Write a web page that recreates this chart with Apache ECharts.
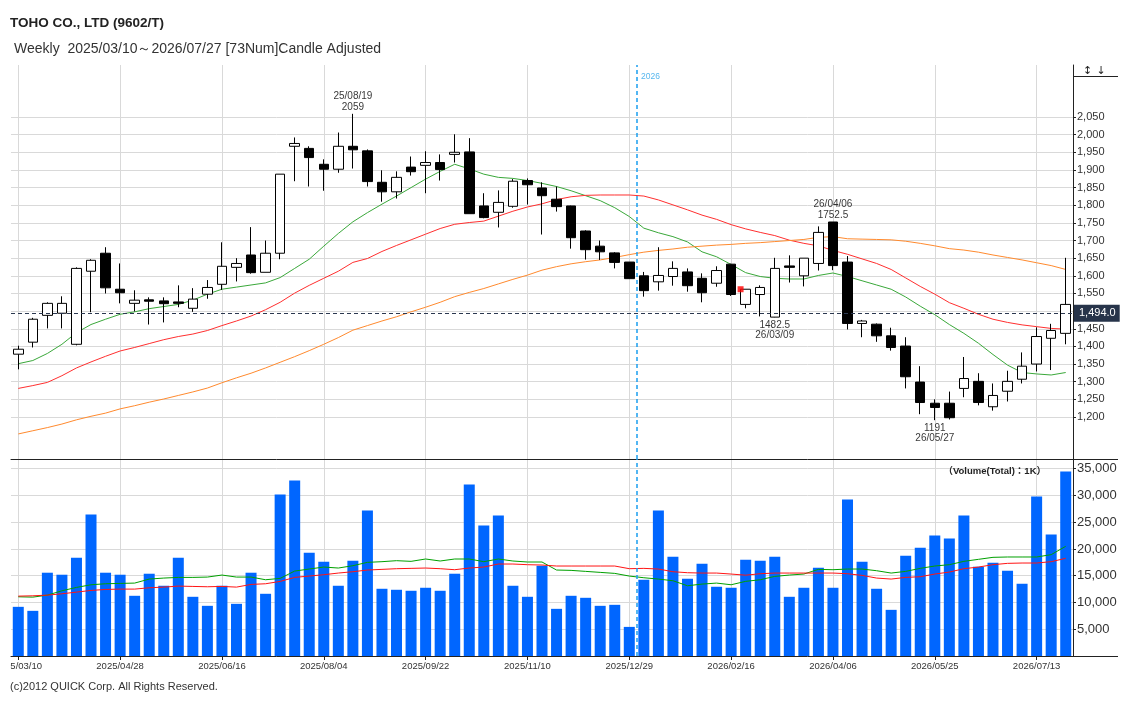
<!DOCTYPE html>
<html>
<head>
<meta charset="utf-8">
<script src="https://cdn.jsdelivr.net/npm/echarts@6/dist/echarts.min.js"></script>
<style>html,body{margin:0;padding:0;background:#fff}#c{width:1129px;height:701px}</style>
</head>
<body>
<div id="c"></div>
<script>
// ---- axis ticks / labels ----
const tickIndex = [0, 7, 14, 21, 28, 35, 42, 49, 56, 63, 70];
const tickLabels = ['2025/03/10', '2025/04/28', '2025/06/16', '2025/08/04', '2025/09/22', '2025/11/10', '2025/12/29', '2026/02/16', '2026/04/06', '2026/05/25', '2026/07/13'];
const priceTicks = [1200, 1250, 1300, 1350, 1400, 1450, 1500, 1550, 1600, 1650, 1700, 1750, 1800, 1850, 1900, 1950, 2000, 2050];
const volumeTicks = [5000, 10000, 15000, 20000, 25000, 30000, 35000];

// ---- weekly candles (73 weeks, 2025/03/10 .. 2026/07/27) ----
const open = [1378, 1412, 1488, 1494, 1406, 1613, 1664, 1562, 1522, 1532, 1529, 1526, 1508, 1548, 1576, 1624, 1659, 1610, 1664, 1967, 1961, 1916, 1902, 1967,
  1954, 1865, 1838, 1908, 1913, 1921, 1944, 1951, 1798, 1780, 1797, 1870, 1849, 1817, 1798, 1727, 1684, 1665, 1639, 1600, 1583, 1598, 1611,
  1593, 1579, 1633, 1519, 1547, 1483, 1628, 1600, 1635, 1752.5, 1639, 1465, 1463, 1430, 1401, 1299, 1239, 1239, 1281, 1301, 1229, 1273, 1307, 1350, 1423, 1437];
const close = [1392, 1477, 1522, 1522, 1621, 1644, 1566, 1552, 1531, 1528, 1521, 1522, 1534, 1567, 1627, 1635, 1609, 1664, 1888, 1975, 1935, 1902, 1967, 1957,
  1867, 1838, 1879, 1895, 1921, 1901, 1950, 1776, 1765, 1808, 1868, 1858, 1827, 1796, 1708, 1674, 1668, 1638, 1592, 1558, 1601, 1621, 1572,
  1552, 1615, 1547, 1562, 1567, 1621, 1624, 1650, 1723, 1629, 1465, 1472, 1430, 1397, 1314, 1241, 1227, 1198, 1309, 1241, 1261, 1301, 1344, 1428, 1445, 1519];
const high = [1402, 1481, 1525, 1542, 1624, 1647, 1681, 1635, 1559, 1539, 1539, 1573, 1565, 1588, 1695, 1650, 1738, 1700, 1888, 1992, 1967, 1930, 2006, 2059,
  1958, 1899, 1896, 1938, 1953, 1944, 2001, 1990, 1834, 1842, 1874, 1876, 1865, 1853, 1799, 1729, 1700, 1667, 1639, 1611, 1681, 1641, 1621,
  1607, 1627, 1634, 1562, 1573, 1651, 1658, 1650, 1740, 1752.5, 1656, 1475, 1465, 1453, 1426, 1344, 1250, 1272, 1370, 1324, 1295, 1331, 1383, 1454, 1464, 1651];
const low = [1335, 1397, 1451, 1451, 1403, 1497, 1550, 1522, 1499, 1462, 1468, 1511, 1498, 1535, 1560, 1584, 1606, 1610, 1647, 1868, 1853, 1841, 1892, 1904,
  1853, 1810, 1819, 1884, 1834, 1870, 1921, 1776, 1763, 1737, 1793, 1802, 1717, 1782, 1677, 1646, 1645, 1621, 1592, 1541, 1558, 1572, 1555,
  1525, 1569, 1543, 1508, 1485, 1482.5, 1581, 1570, 1615, 1616, 1448, 1426, 1413, 1388, 1281, 1208, 1191, 1193, 1256, 1233, 1218, 1244, 1295, 1329, 1333, 1406];

// ---- price moving averages ----
const ma13 = [1351, 1360, 1380, 1406, 1439, 1462, 1477, 1491, 1498, 1507, 1513, 1519, 1531, 1548, 1562, 1568, 1574, 1580, 1595, 1621, 1647, 1684, 1720, 1753,
  1779, 1803, 1826, 1850, 1874, 1896, 1916, 1903, 1888, 1879, 1876, 1870, 1862, 1853, 1841, 1827, 1813, 1793, 1768, 1735, 1722, 1711, 1696,
  1668, 1654, 1632, 1609, 1598, 1593, 1591, 1591, 1601, 1608, 1598, 1586, 1574, 1562, 1540, 1514, 1490, 1462, 1437, 1409, 1377, 1347, 1326, 1322, 1319, 1326];
const ma26 = [1281, 1289, 1298, 1317, 1339, 1356, 1372, 1387, 1397, 1408, 1419, 1428, 1435, 1445, 1459, 1472, 1486, 1504, 1525, 1551, 1573, 1593, 1613, 1638,
  1649, 1669, 1686, 1702, 1718, 1734, 1746, 1751, 1755, 1769, 1783, 1795, 1804, 1816, 1824, 1828, 1829, 1829, 1829, 1826, 1815, 1801, 1787,
  1772, 1760, 1745, 1733, 1723, 1714, 1701, 1692, 1685, 1672, 1661, 1648, 1635, 1618, 1594, 1570, 1548, 1524, 1508, 1491, 1477, 1468, 1461, 1456, 1451, 1449];
const ma52 = [1152, 1161, 1170, 1180, 1192, 1202, 1211, 1223, 1232, 1242, 1251, 1261, 1271, 1282, 1297, 1311, 1324, 1339, 1355, 1371, 1388, 1406, 1425, 1446,
  1459, 1472, 1484, 1498, 1511, 1525, 1541, 1553, 1564, 1577, 1590, 1602, 1616, 1626, 1634, 1640, 1645, 1652, 1660, 1667, 1672, 1676, 1681,
  1684, 1687, 1689, 1692, 1694, 1697, 1700, 1703, 1709, 1711, 1705, 1704, 1703, 1702, 1698, 1692, 1685, 1677, 1673, 1667, 1659, 1652, 1645, 1637, 1629, 1618];

// ---- volume (thousand shares) and its averages ----
const volume = [9188, 8438, 15563, 15188, 18375, 26438, 15563, 15188, 11250, 15375, 13125, 18375, 11063, 9375, 13125, 9750, 15563, 11625, 30188, 32813, 19313, 17625, 13125, 17813, 27188,
  12563, 12375, 12188, 12750, 12188, 15375, 32063, 24375, 26250, 13125, 11063, 16875, 8813, 11250, 10875, 9375, 9563, 5438, 14250, 27188, 18563, 14438, 17250, 12938, 12750, 18000,
  17813, 18563, 11063, 12750, 16500, 12750, 29250, 17625, 12563, 8625, 18750, 20250, 22500, 21938, 26250, 16688, 17438, 15938, 13500, 29813, 22688, 34500];
const volMa13 = [11063, 11000, 11375, 12188, 12813, 13313, 13500, 13563, 13625, 14375, 14563, 14688, 14688, 14750, 15125, 14750, 14750, 14250, 14500, 15875, 16250, 16625, 16438, 16875, 17500,
  17625, 17813, 17688, 18125, 17750, 18125, 18125, 17625, 18125, 17750, 17563, 17563, 16063, 16000, 15813, 15625, 15438, 14938, 14625, 14375, 14063, 13125, 13438, 13625, 13313, 13950,
  14250, 14875, 15125, 15313, 16188, 16125, 16250, 16250, 15938, 15500, 15813, 16375, 16813, 17063, 17688, 18063, 18438, 18500, 18500, 18500, 18938, 20500];
const volMa26 = [11188, 11250, 11375, 11625, 11938, 12250, 12438, 12500, 12500, 12750, 12875, 13063, 13000, 12938, 13000, 12875, 13375, 13500, 13938, 14688, 14938, 15188, 15500, 15750, 16063,
  16188, 16313, 16375, 16438, 16313, 16125, 16438, 16625, 17188, 17188, 17063, 17000, 16813, 16813, 16813, 16813, 16813, 16313, 16375, 16250, 15750, 15563, 15500, 15500, 15313, 15100,
  15375, 15500, 15500, 15500, 15500, 15500, 15375, 15063, 14563, 14375, 14688, 14813, 15313, 15688, 16313, 16625, 17063, 17313, 17375, 17375, 17625, 18250];

// ---- annotations ----
const lastPrice = 1494.0;
const yearBoundary = 42.5;           // between 2025/12/29 and 2026/01/05
const yearLabel = '2026';
const yearLabelPrice = 2164;
const annotations = [
  { i: 23, price: 2059, text: '25/08/19\n2059', pos: 'top' },
  { i: 56, price: 1752.5, text: '26/04/06\n1752.5', pos: 'top' },
  { i: 52, price: 1482.5, text: '1482.5\n26/03/09', pos: 'bottom' },
  { i: 63, price: 1191, text: '1191\n26/05/27', pos: 'bottom' }
];
const eventMarkers = [[49.65, 1562]];

const fmt = v => Number(v).toLocaleString('en-US');
const series2 = arr => arr.map((v, i) => [i, v]);
const ohlc = open.map((o, i) => [i, o, close[i], low[i], high[i]]);
const weekIndex = open.map((o, i) => i);

const FONT = '"Liberation Sans", Arial, sans-serif';
const grid = '#d9d9d9';
const axisCol = '#222';

const chart = echarts.init(document.getElementById('c'), null, { renderer: 'canvas', width: 1129, height: 701 });

const lineS = (name, data, color, xi, yi, z, extra) => Object.assign({
  name, type: 'line', xAxisIndex: xi, yAxisIndex: yi, data: series2(data),
  symbol: 'none', showSymbol: false, clip: false, z: z,
  lineStyle: { color, width: 1 }, silent: true
}, extra || {});

const yearLine = () => ({
  silent: true, symbol: ['none', 'none'], animation: false,
  label: { show: false },
  lineStyle: { color: '#1a9ff0', type: [4, 3], width: 1.5 },
  data: [{ xAxis: yearBoundary }]
});

const option = {
  animation: false,
  backgroundColor: '#fff',
  textStyle: { fontFamily: FONT },
  grid: [
    { left: 11, right: 56, top: 65, height: 394, containLabel: false, outerBoundsMode: 'none' },
    { left: 11, right: 56, top: 459, height: 197, containLabel: false, outerBoundsMode: 'none' }
  ],
  xAxis: [
    {
      type: 'value', gridIndex: 0, min: -0.5, max: 72.5,
      axisLine: { show: true, onZero: false, lineStyle: { color: axisCol, width: 1 } },
      axisTick: { show: false, customValues: tickIndex },
      axisLabel: { show: false, customValues: tickIndex },
      splitLine: { show: true, lineStyle: { color: grid, width: 1 } }
    },
    {
      type: 'value', gridIndex: 1, min: -0.5, max: 72.5,
      axisLine: { show: true, onZero: false, lineStyle: { color: axisCol, width: 1 } },
      axisTick: { show: true, length: 4, customValues: tickIndex, lineStyle: { color: axisCol } },
      axisLabel: {
        customValues: tickIndex, fontSize: 9.5, color: '#333', margin: 5, fontFamily: FONT,
        formatter: v => tickLabels[tickIndex.indexOf(Math.round(v))] || ''
      },
      splitLine: { show: true, lineStyle: { color: grid, width: 1 } }
    },
    {
      type: 'category', gridIndex: 1, data: weekIndex, boundaryGap: true, show: false
    }
  ],
  yAxis: [
    {
      type: 'value', gridIndex: 0, position: 'right', min: 1081, max: 2197.3,
      axisLine: { show: true, onZero: false, lineStyle: { color: axisCol, width: 1 } },
      axisTick: { show: true, length: 3, customValues: priceTicks, lineStyle: { color: axisCol } },
      axisLabel: { customValues: priceTicks, formatter: fmt, fontSize: 11, color: '#333', margin: 4, fontFamily: FONT },
      splitLine: { show: true, lineStyle: { color: grid, width: 1 } }
    },
    {
      type: 'value', gridIndex: 1, position: 'right', min: 0, max: 36813,
      axisLine: { show: true, onZero: false, lineStyle: { color: axisCol, width: 1 } },
      axisTick: { show: true, length: 3, customValues: volumeTicks, lineStyle: { color: axisCol } },
      axisLabel: { customValues: volumeTicks, formatter: fmt, fontSize: 13, color: '#333', margin: 4, fontFamily: FONT },
      splitLine: { show: true, lineStyle: { color: grid, width: 1 } }
    }
  ],
  series: [
    lineS('MA13', ma13, '#3aa83a', 0, 0, 2, { markLine: yearLine() }),
    lineS('MA26', ma26, '#ff2f2f', 0, 0, 2),
    lineS('MA52', ma52, '#ff8a2e', 0, 0, 2),
    {
      name: 'price', type: 'candlestick', xAxisIndex: 0, yAxisIndex: 0, data: ohlc,
      barWidth: 10, clip: false, z: 4, silent: true,
      itemStyle: { color: '#ffffff', color0: '#000000', borderColor: '#000000', borderColor0: '#000000', borderColorDoji: '#000000', borderWidth: 1 },
      markLine: {
        silent: true, symbol: ['none', 'none'], animation: false, z: 6,
        lineStyle: { color: '#2b3850', type: [4, 3], width: 1 },
        label: {
          show: true, position: 'end', distance: 1,
          formatter: () => lastPrice.toLocaleString('en-US', { minimumFractionDigits: 1 }),
          color: '#fff', backgroundColor: '#27344a', padding: [3, 4, 3, 5], fontSize: 11, fontFamily: FONT
        },
        data: [{ yAxis: lastPrice }]
      }
    },
    {
      type: 'scatter', xAxisIndex: 0, yAxisIndex: 0, silent: true, z: 7,
      symbolSize: 1, itemStyle: { color: 'rgba(0,0,0,0)' },
      data: annotations.map(a => ({
        value: [a.i, a.price],
        label: {
          show: true, position: a.pos, distance: a.pos === 'top' ? 1 : 2,
          formatter: a.text, fontSize: 10, lineHeight: 10.5, color: '#000', align: 'center', fontFamily: FONT
        }
      }))
    },
    {
      type: 'scatter', xAxisIndex: 0, yAxisIndex: 0, silent: true, z: 7,
      symbol: 'rect', symbolSize: 6, itemStyle: { color: '#ff0000' },
      data: eventMarkers
    },
    {
      type: 'scatter', xAxisIndex: 0, yAxisIndex: 0, silent: true, z: 7,
      symbolSize: 1, itemStyle: { color: 'rgba(0,0,0,0)' },
      data: [{
        value: [yearBoundary, yearLabelPrice],
        label: { show: true, position: 'right', distance: 4, formatter: yearLabel, fontSize: 8.5, color: '#2aa4ea', fontFamily: FONT }
      }]
    },
    {
      name: 'volume', type: 'bar', xAxisIndex: 2, yAxisIndex: 1, data: volume,
      barWidth: 11, silent: true, z: 2,
      itemStyle: { color: '#0066ff' }
    },
    lineS('VMA13', volMa13, '#00a000', 1, 1, 4, { markLine: yearLine() }),
    lineS('VMA26', volMa26, '#ff1414', 1, 1, 4)
  ],
  graphic: [
    { type: 'text', left: 10, top: 16, z: 100, style: { text: 'TOHO CO., LTD (9602/T)', font: 'bold 13.5px ' + FONT, fill: '#222' } },
    { type: 'text', left: 14, top: 42, z: 100, style: { text: 'Weekly  2025/03/10～2026/07/27 [73Num]Candle Adjusted', font: '14px ' + FONT, fill: '#333' } },
    { type: 'text', left: 10, top: 681, z: 100, style: { text: '(c)2012 QUICK Corp. All Rights Reserved.', font: '11px ' + FONT, fill: '#333' } },
    { type: 'text', z: 100, x: 1046, y: 471, style: { text: '（Volume(Total)：1K）', font: 'bold 9.5px ' + FONT + ', "Noto Sans CJK JP"', fill: '#222', align: 'right', verticalAlign: 'middle' } },
    { type: 'rect', z: 100, shape: { x: 0, y: 657, width: 10.5, height: 16 }, style: { fill: '#fff' } },
    { type: 'line', z: 100, shape: { x1: 1073, y1: 459.5, x2: 1118, y2: 459.5 }, style: { stroke: axisCol, lineWidth: 1 } },
    { type: 'line', z: 100, shape: { x1: 1073, y1: 656.5, x2: 1118, y2: 656.5 }, style: { stroke: axisCol, lineWidth: 1 } },
    { type: 'line', z: 100, shape: { x1: 1073, y1: 76.5, x2: 1118, y2: 76.5 }, style: { stroke: axisCol, lineWidth: 1 } },
    { type: 'text', z: 100, x: 1087.5, y: 71, style: { text: '↕', font: '11px "DejaVu Sans"', fill: '#222', align: 'center', verticalAlign: 'middle' } },
    { type: 'text', z: 100, x: 1101, y: 71, style: { text: '↓', font: '11px "DejaVu Sans"', fill: '#222', align: 'center', verticalAlign: 'middle' } }
  ]
};
chart.setOption(option);
</script>
</body>
</html>
